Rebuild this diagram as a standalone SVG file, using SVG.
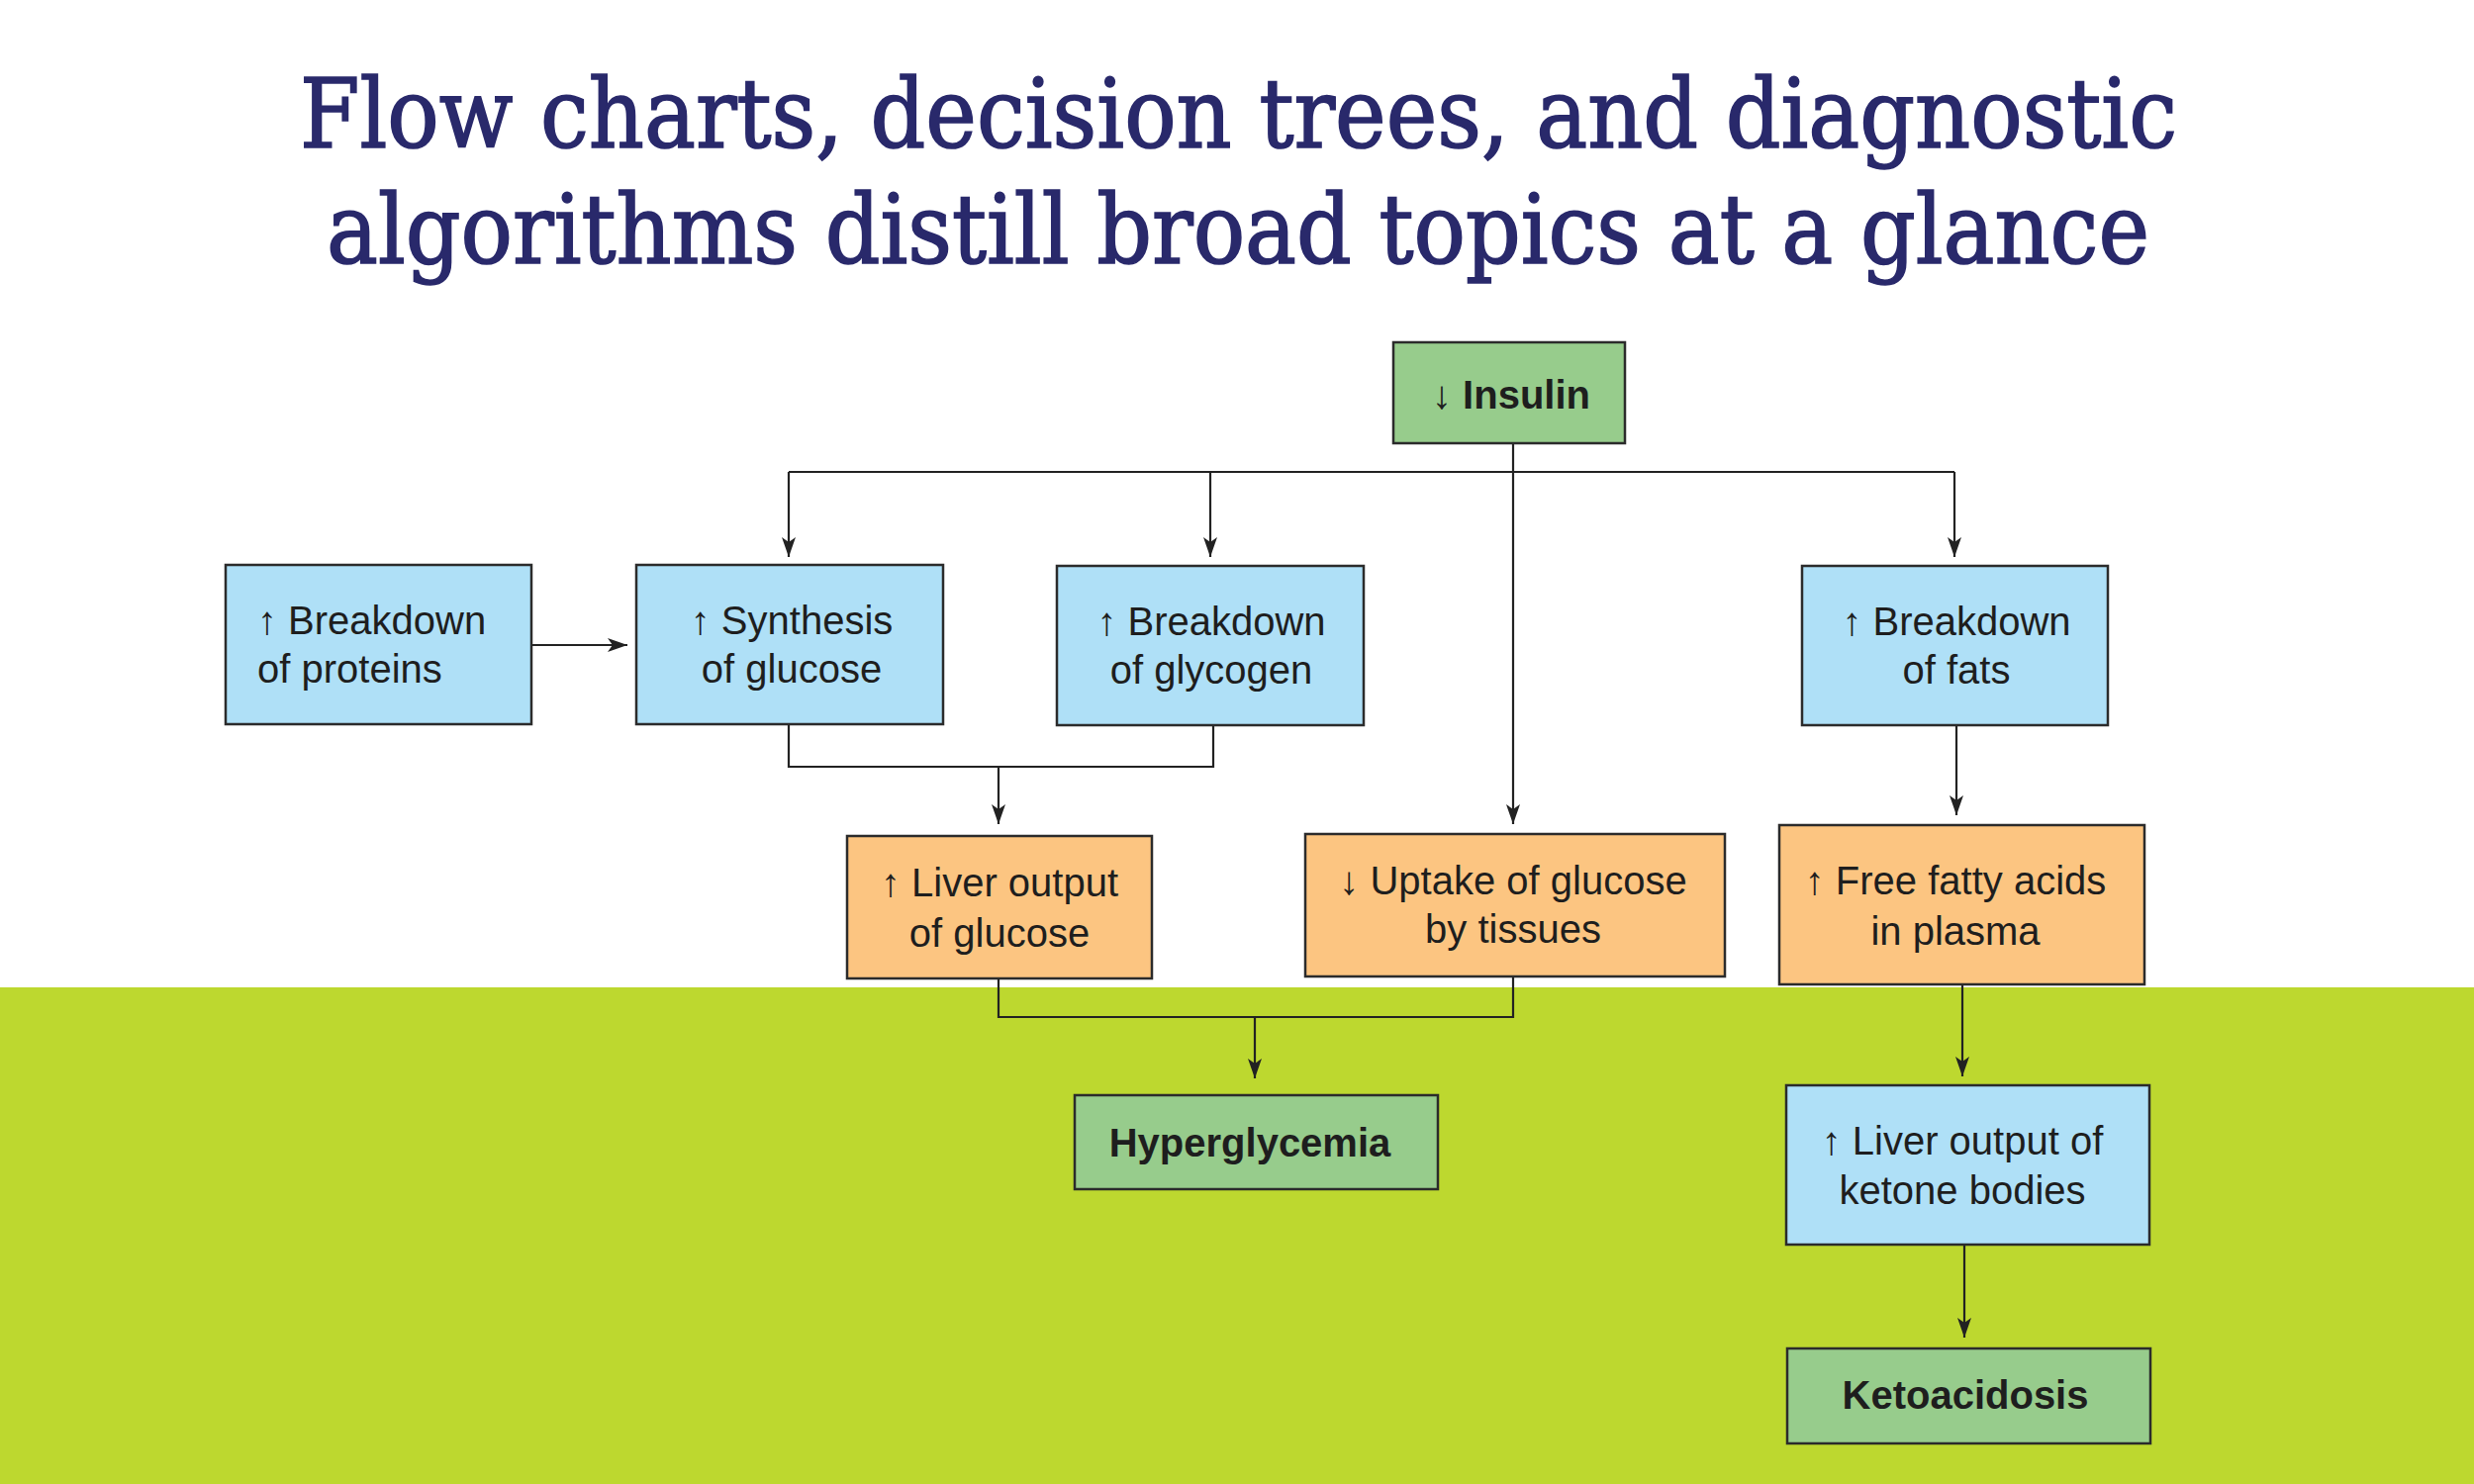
<svg xmlns="http://www.w3.org/2000/svg" width="2500" height="1500" viewBox="0 0 2500 1500">
<defs>
<marker id="ah" markerWidth="20" markerHeight="14" refX="20" refY="7" orient="auto" markerUnits="userSpaceOnUse">
<path d="M0,0 L20,7 L0,14 L5,7 Z" fill="#222"/>
</marker>
<style>
.title{font-family:"DejaVu Serif Condensed","DejaVu Serif","Liberation Serif",serif;font-size:98px;fill:#29296b;stroke:#29296b;stroke-width:1.6;}
.box{stroke:#2b2b2b;stroke-width:2.5;}
.blue{fill:#afe0f7;}
.orange{fill:#fcc581;}
.green{fill:#97cc8c;}
.t{font-family:"Liberation Sans",Arial,sans-serif;font-size:40px;fill:#1e1e1e;text-anchor:middle;}
.b{font-weight:bold;}
.c{fill:none;stroke:#222;stroke-width:2.2;}
.a{marker-end:url(#ah);}
</style>
</defs>
<rect x="0" y="0" width="2500" height="1500" fill="#ffffff"/>
<rect x="0" y="998" width="2500" height="502" fill="#bdd82f"/>
<g id="title">
<text class="title" x="303" y="149" textLength="1897" lengthAdjust="spacingAndGlyphs">Flow charts, decision trees, and diagnostic</text>
<text class="title" x="330" y="266" textLength="1842" lengthAdjust="spacingAndGlyphs">algorithms distill broad topics at a glance</text>
</g>
<g id="connectors">
<path class="c" d="M1529,448 V477"/>
<path class="c" d="M797,477 H1975"/>
<path class="c a" d="M797,477 V563"/>
<path class="c a" d="M1223,477 V563"/>
<path class="c a" d="M1975,477 V563"/>
<path class="c a" d="M1529,477 V833"/>
<path class="c a" d="M537,652 H634"/>
<path class="c" d="M797,732 V775 H1226 V733"/>
<path class="c a" d="M1009,775 V833"/>
<path class="c a" d="M1977,733 V824"/>
<path class="c" d="M1009,989 V1028 H1529 V987"/>
<path class="c a" d="M1268,1028 V1090"/>
<path class="c a" d="M1983,995 V1088"/>
<path class="c a" d="M1985,1258 V1352"/>
</g>
<g id="insulin">
<rect class="box green" x="1408" y="346" width="234" height="102"/>
<text class="t b" x="1527" y="413">↓ Insulin</text>
</g>
<g id="breakdown-proteins">
<rect class="box blue" x="228" y="571" width="309" height="161"/>
<text class="t" x="260" y="641" style="text-anchor:start">↑ Breakdown</text>
<text class="t" x="260" y="690" style="text-anchor:start">of proteins</text>
</g>
<g id="synthesis-glucose">
<rect class="box blue" x="643" y="571" width="310" height="161"/>
<text class="t" x="800" y="641">↑ Synthesis</text>
<text class="t" x="800" y="690">of glucose</text>
</g>
<g id="breakdown-glycogen">
<rect class="box blue" x="1068" y="572" width="310" height="161"/>
<text class="t" x="1224" y="642">↑ Breakdown</text>
<text class="t" x="1224" y="691">of glycogen</text>
</g>
<g id="breakdown-fats">
<rect class="box blue" x="1821" y="572" width="309" height="161"/>
<text class="t" x="1977" y="642">↑ Breakdown</text>
<text class="t" x="1977" y="691">of fats</text>
</g>
<g id="liver-output-glucose">
<rect class="box orange" x="856" y="845" width="308" height="144"/>
<text class="t" x="1010" y="906">↑ Liver output</text>
<text class="t" x="1010" y="957">of glucose</text>
</g>
<g id="uptake-glucose">
<rect class="box orange" x="1319" y="843" width="424" height="144"/>
<text class="t" x="1529" y="904">↓ Uptake of glucose</text>
<text class="t" x="1529" y="953">by tissues</text>
</g>
<g id="free-fatty-acids">
<rect class="box orange" x="1798" y="834" width="369" height="161"/>
<text class="t" x="1976" y="904">↑ Free fatty acids</text>
<text class="t" x="1976" y="955">in plasma</text>
</g>
<g id="hyperglycemia">
<rect class="box green" x="1086" y="1107" width="367" height="95"/>
<text class="t b" x="1263" y="1169">Hyperglycemia</text>
</g>
<g id="ketone-bodies">
<rect class="box blue" x="1805" y="1097" width="367" height="161"/>
<text class="t" x="1983" y="1167">↑ Liver output of</text>
<text class="t" x="1983" y="1217">ketone bodies</text>
</g>
<g id="ketoacidosis">
<rect class="box green" x="1806" y="1363" width="367" height="96"/>
<text class="t b" x="1986" y="1424">Ketoacidosis</text>
</g>
</svg>
